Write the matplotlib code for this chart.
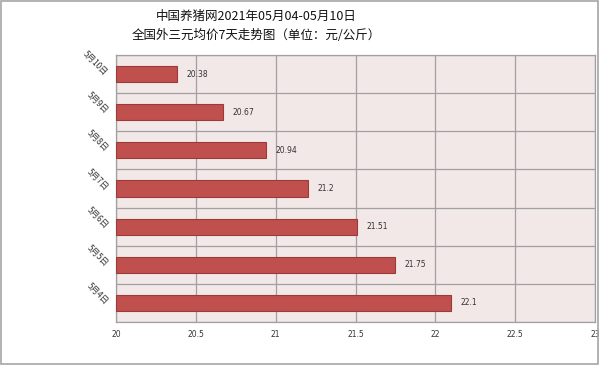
import matplotlib
matplotlib.use("Agg")
import matplotlib.pyplot as plt
from matplotlib.patches import Rectangle

plt.rcParams['font.family'] = ['Noto Sans CJK SC', 'DejaVu Sans']

categories = ["5月4日", "5月5日", "5月6日", "5月7日", "5月8日", "5月9日", "5月10日"]
values = [22.1, 21.75, 21.51, 21.2, 20.94, 20.67, 20.38]
value_labels = ["22.1", "21.75", "21.51", "21.2", "20.94", "20.67", "20.38"]
xticks = [20, 20.5, 21, 21.5, 22, 22.5, 23]
xtick_labels = ["20", "20.5", "21", "21.5", "22", "22.5", "23"]
title1 = "中国养猪网2021年05月04-05月10日"
title2 = "全国外三元均价7天走势图（单位：元/公斤）"

fig = plt.figure(figsize=(6, 3.65), dpi=100)
fig.patches.append(Rectangle((0.002, 0.003), 0.995, 0.994, transform=fig.transFigure,
                             fill=False, edgecolor="#A6A6A6", linewidth=1.2))
ax = fig.add_axes([116/600, 1-322/365, (595-116)/600, (322-55)/365])
ax.set_facecolor("#F3E8E8")

y = list(range(len(categories)))
ax.barh(y, [v - 20 for v in values], left=20, height=0.42, color="#C0504D",
        edgecolor="#9B3B39", linewidth=0.8, zorder=3)
for yi, v, lab in zip(y, values, value_labels):
    ax.text(v + 0.06, yi, lab, va="center", ha="left", fontsize=5.5, color="#333333",
            family="DejaVu Sans", zorder=4)

ax.set_xlim(20, 23)
ax.set_ylim(-0.5, len(categories) - 0.5)
ax.set_xticks(xticks)
ax.set_xticklabels(xtick_labels, fontsize=5.5, color="#333333", family="DejaVu Sans")
ax.set_yticks(y)
ax.set_yticklabels(categories, fontsize=6, rotation=-45, color="#333333",
                   ha="right", va="center", rotation_mode="anchor")
ax.tick_params(axis="y", length=0, pad=7)
ax.tick_params(axis="x", length=0, pad=6)
ax.set_yticks([i - 0.5 for i in range(len(categories) + 1)], minor=True)
ax.tick_params(axis="y", which="minor", length=0)
ax.grid(axis="x", color="#A0A0A0", linewidth=0.9, zorder=1)
ax.grid(axis="y", which="minor", color="#A0A0A0", linewidth=0.9, zorder=1)
ax.grid(axis="y", which="major", visible=False)
for s in ax.spines.values():
    s.set_color("#A0A0A0")
    s.set_linewidth(0.9)

fig.text(256/600, 1-16/365, title1, ha="center", va="center", fontsize=9, color="#111111")
fig.text(256/600, 1-35/365, title2, ha="center", va="center", fontsize=9, color="#111111")

fig.savefig("out.png", dpi=100)
